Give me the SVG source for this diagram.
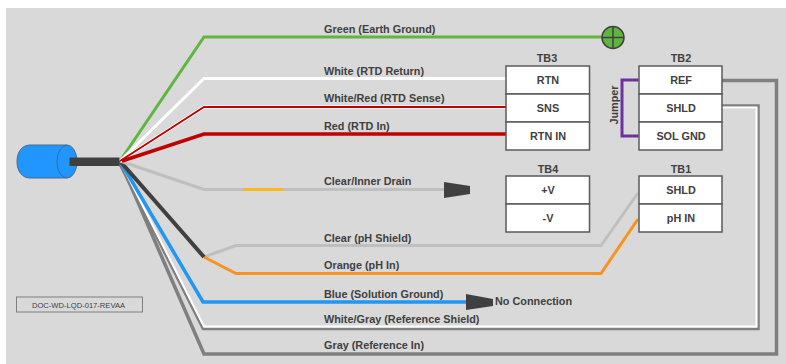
<svg xmlns="http://www.w3.org/2000/svg" width="786" height="364" viewBox="0 0 786 364">
<style>
text{font-family:"Liberation Sans",Arial,sans-serif;font-size:10.85px;font-weight:bold;fill:#404040}
.m{text-anchor:middle}
.w{fill:none;stroke-linejoin:miter}
.box{fill:#fff;stroke:#595959;stroke-width:1.5}
.head{fill:#404040}
</style>
<rect x="6" y="8" width="780" height="356" fill="#d9d9d9"/>
<g id="connectors">
<polyline class="w" points="120,161 204,354 776.5,354 776.5,80.5 722,80.5" stroke="#7f7f7f" stroke-width="3.5"/>
<polyline class="w" points="118,161 203,329 758.5,329 758.5,105.5 722,105.5" stroke="#7f7f7f" stroke-width="2.5"/>
<polyline class="w" points="120,161 204,326.5 756.5,326.5 756.5,107.5 722,107.5" stroke="#fff" stroke-width="2"/>
<polyline class="w" points="120,161 203,302 466,302" stroke="#2196f3" stroke-width="3.5"/>
<polyline class="w" points="204,257 236,245.5 601,245.5 638,193" stroke="#bfbfbf" stroke-width="3"/>
<polyline class="w" points="204,257 236,273.5 601,273.5 638,219" stroke="#f7931e" stroke-width="3"/>
<line x1="120" y1="161" x2="204" y2="257" stroke="#404040" stroke-width="4"/>
<polyline class="w" points="120,161 204,189.5 444,189.5" stroke="#bfbfbf" stroke-width="3"/>
<line x1="243" y1="189.5" x2="283" y2="189.5" stroke="#fbb91f" stroke-width="3"/>
<polyline class="w" points="120,161 204,37 603,37" stroke="#5fb53f" stroke-width="3"/>
<polyline class="w" points="120,161 204,78.5 506,78.5" stroke="#fff" stroke-width="3"/>
<polyline class="w" points="120,161 204,107 506,107" stroke="#fff" stroke-width="3.5"/>
<polyline class="w" points="120,161 204,107 506,107" stroke="#c00000" stroke-width="1.8"/>
<polyline class="w" points="122,161 204,134 506,134" stroke="#c00000" stroke-width="3.5"/>
<polyline class="w" points="639,80 622,80 622,136 639,136" stroke="#7030a0" stroke-width="3"/>
<polygon class="head" points="444,182 470,186 470,194 444,198"/>
<polygon class="head" points="466,294 493,299 493,306 466,310"/>
</g>
<g id="cable">
<path d="M30,145H67V178H30C22,178 17,171 17,161.5C17,152 22,145 30,145Z" fill="#2196ff" stroke="#4a6c8c" stroke-width="1"/>
<ellipse cx="67" cy="161.5" rx="10" ry="16.5" fill="#2196ff" stroke="#3f6a92" stroke-width="1"/>
<rect x="69.5" y="157.5" width="50" height="8.5" fill="#404040"/>
</g>
<g id="ground">
<circle cx="613" cy="37.5" r="11" fill="#5fb53f" stroke="#404040" stroke-width="1.5"/>
<path d="M602,37.5H624M613,26.5V48.5" stroke="#404040" stroke-width="1.5" fill="none"/>
</g>
<g id="tb3">
<text class="m" x="547" y="62">TB3</text>
<rect class="box" x="506" y="66" width="83.5" height="28"/><rect class="box" x="506" y="94" width="83.5" height="28"/><rect class="box" x="506" y="122" width="83.5" height="28"/>
<text class="m" x="548" y="84">RTN</text><text class="m" x="548" y="112">SNS</text><text class="m" x="548" y="140">RTN IN</text>
</g>
<g id="tb2">
<text class="m" x="681" y="62">TB2</text>
<rect class="box" x="639" y="66" width="83" height="28"/><rect class="box" x="639" y="94" width="83" height="28"/><rect class="box" x="639" y="122" width="83" height="28"/>
<text class="m" x="681" y="84">REF</text><text class="m" x="681" y="112">SHLD</text><text class="m" x="681" y="140">SOL GND</text>
</g>
<g id="tb4">
<text class="m" x="548" y="173">TB4</text>
<rect class="box" x="506" y="176" width="83.5" height="28"/><rect class="box" x="506" y="204" width="83.5" height="28"/>
<text class="m" x="548" y="194">+V</text><text class="m" x="548" y="222">-V</text>
</g>
<g id="tb1">
<text class="m" x="681" y="173">TB1</text>
<rect class="box" x="639" y="176" width="83" height="28"/><rect class="box" x="639" y="204" width="83" height="28"/>
<text class="m" x="681" y="194">SHLD</text><text class="m" x="681" y="222">pH IN</text>
</g>
<g id="labels">
<text x="324" y="33">Green (Earth Ground)</text>
<text x="324" y="75">White (RTD Return)</text>
<text x="324" y="102">White/Red (RTD Sense)</text>
<text x="324" y="130">Red (RTD In)</text>
<text x="324" y="185">Clear/Inner Drain</text>
<text x="324" y="242">Clear (pH Shield)</text>
<text x="324" y="269">Orange (pH In)</text>
<text x="324" y="298">Blue (Solution Ground)</text>
<text x="324" y="323">White/Gray (Reference Shield)</text>
<text x="324" y="349">Gray (Reference In)</text>
<text x="495" y="305">No Connection</text>
<text class="m" transform="translate(617.5,105) rotate(-90)">Jumper</text>
</g>
<g id="doc">
<rect x="16.5" y="297" width="126" height="15" fill="none" stroke="#7f7f7f" stroke-width="1"/>
<text class="m" x="78.5" y="307.5" style="font-size:7.6px;font-weight:normal">DOC-WD-LQD-017-REVAA</text>
</g>
</svg>
